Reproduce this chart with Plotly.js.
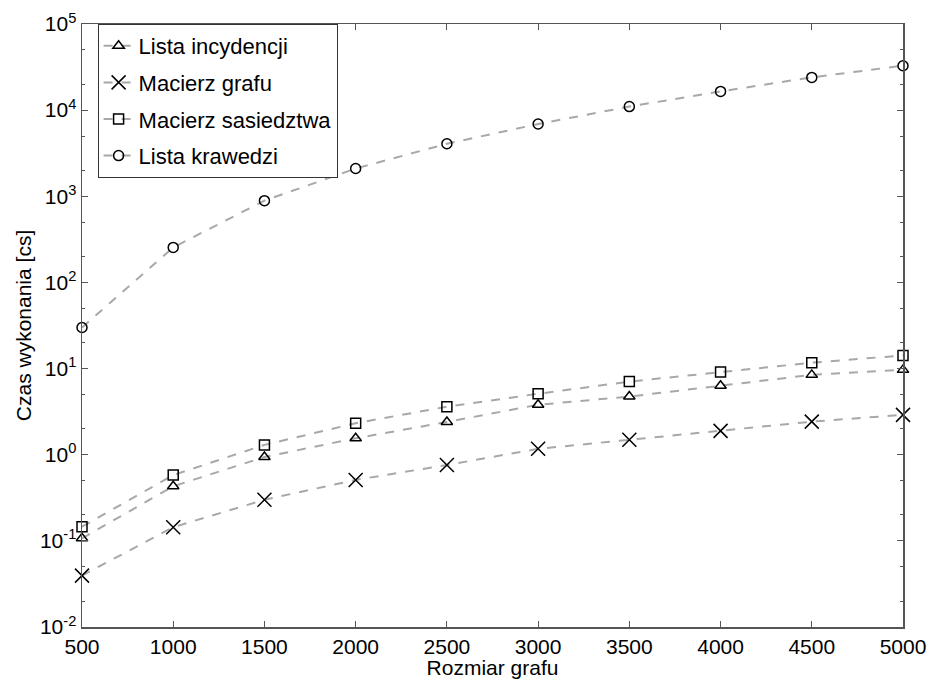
<!DOCTYPE html>
<html><head><meta charset="utf-8">
<script src="https://cdn.plot.ly/plotly-3.0.1.min.js"></script>
<style>body{margin:0;background:#fff}#c{width:930px;height:679px}</style>
</head><body><div id="c"></div>
<script>
const sizes = [500,1000,1500,2000,2500,3000,3500,4000,4500,5000];
const listaIncydencji = [0.107,0.43,0.94,1.55,2.40,3.8,4.73,6.33,8.45,9.66];
const macierzGrafu = [0.0395,0.144,0.30,0.51,0.76,1.17,1.49,1.89,2.42,2.90];
const macierzSasiedztwa = [0.146,0.58,1.30,2.32,3.61,5.1,7.06,9.13,11.7,14.2];
const listaKrawedzi = [30,255,890,2100,4070,6900,11000,16500,24000,32800];
const names = ['Lista incydencji','Macierz grafu','Macierz sasiedztwa','Lista krawedzi'];
const yTickVals = [0.01,0.1,1,10,100,1000,10000,100000];
const yTickText = ['10<sup>-2</sup>','10<sup>-1</sup>','10<sup>0</sup>','10<sup>1</sup>','10<sup>2</sup>','10<sup>3</sup>','10<sup>4</sup>','10<sup>5</sup>'];

const series = [listaIncydencji, macierzGrafu, macierzSasiedztwa, listaKrawedzi];
const symbols = ['triangle-up-open','x-thin-open','square-open','circle-open'];
const msizes = [10,14,10,10];
const traces = series.map((ys,i)=>({
  x: sizes, y: ys, name: names[i], type:'scatter', mode:'lines+markers',
  legendgroup:'g'+i,
  line:{color:'#a8a8a8', width:2, dash:'dash'},
  marker:{symbol:symbols[i], size:msizes[i], color:'#000', line:{color:'#000', width:1.5}},
  cliponaxis:false
}));

const fam = 'Liberation Sans, Arial, sans-serif';
const layout = {
  width:930, height:679,
  paper_bgcolor:'#fff', plot_bgcolor:'#fff',
  margin:{l:82, r:27, t:24, b:52},
  font: {family:fam, size:21, color:'#000'},
  showlegend:true,
  legend:{x:0.019, y:1, xanchor:'left', yanchor:'top', bordercolor:'#333', borderwidth:1,
    bgcolor:'#fff', font:{family:fam, size:22, color:'#000'}, tracegroupgap:5, itemwidth:30},
  xaxis:{range:[500,5000], tickvals:sizes, ticks:'inside', ticklen:6, tickcolor:'#555',
    showline:true, linecolor:'#555', linewidth:1.5, mirror:'allticks', showgrid:false, zeroline:false,
    title:{text:'Rozmiar grafu', font:{size:21}, standoff:0}, tickfont:{size:21}},
  yaxis:{type:'log', range:[-2,5], tickvals:yTickVals, ticktext:yTickText, ticks:'inside', ticklen:6,
    tickcolor:'#555', showline:true, linecolor:'#555', linewidth:1.5, mirror:'allticks', showgrid:false, zeroline:false,
    minor:{ticks:'inside', ticklen:3, tickcolor:'#555', showgrid:false},
    title:{text:'Czas wykonania [cs]', font:{size:21}, standoff:2}, tickfont:{size:21}}
};
Plotly.newPlot('c', traces, layout, {displayModeBar:false, staticPlot:true});
</script></body></html>
